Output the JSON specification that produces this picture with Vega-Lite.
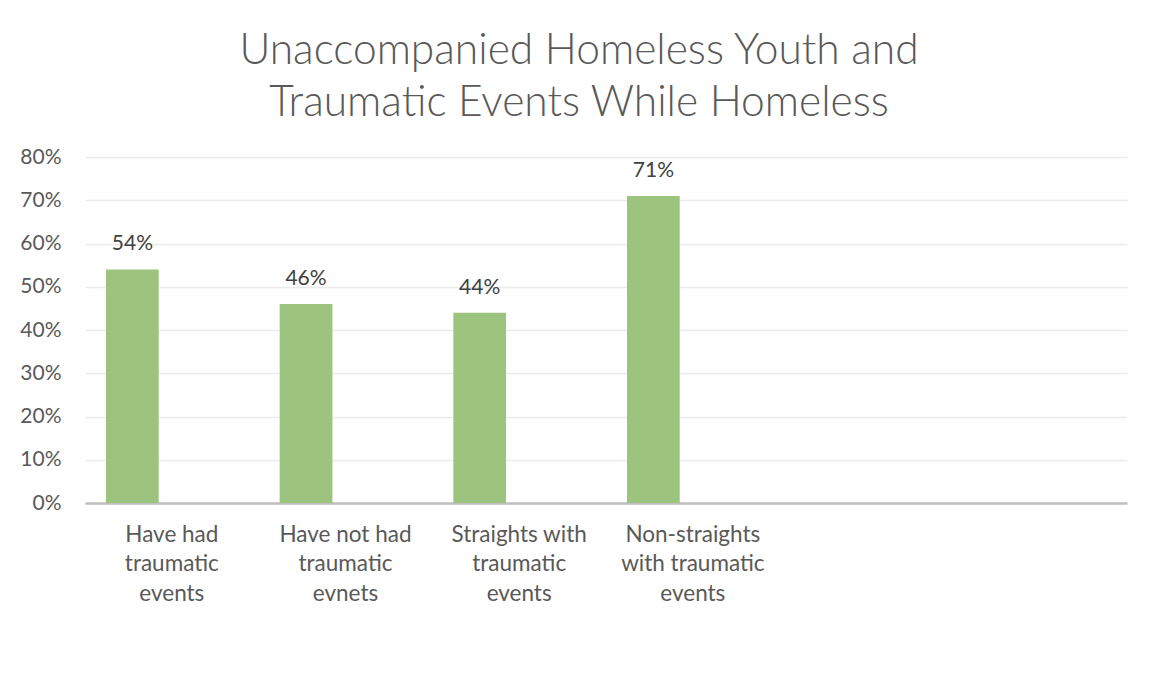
{
  "$schema": "https://vega.github.io/schema/vega-lite/v6.json",
  "width": 1042,
  "height": 346,
  "autosize": {"type": "none"},
  "padding": {"left": 85, "top": 157, "right": 24, "bottom": 174},
  "background": "white",
  "title": {
    "text": ["Unaccompanied Homeless Youth and", "Traumatic Events While Homeless"],
    "font": "Lato",
    "fontWeight": 300,
    "fontSize": 42.5,
    "color": "#595959",
    "anchor": "middle",
    "frame": "group",
    "dx": -27,
    "lineHeight": 52,
    "offset": 22
  },
  "data": {
    "values": [
      {"group": "Have had traumatic events", "series": "A", "share": 0.54},
      {"group": "Have not had traumatic evnets", "series": "A", "share": 0.46},
      {"group": "Straights with traumatic events", "series": "A", "share": 0.44},
      {"group": "Non-straights with traumatic events", "series": "A", "share": 0.71}
    ]
  },
  "encoding": {
    "x": {
      "field": "group",
      "type": "nominal",
      "sort": null,
      "scale": {
        "domain": ["Have had traumatic events", "Have not had traumatic evnets", "Straights with traumatic events", "Non-straights with traumatic events", " ", "  "],
        "paddingInner": 0,
        "paddingOuter": 0
      },
      "axis": {
        "title": null,
        "labelAngle": 0,
        "ticks": false,
        "domainColor": "#bfbfbf",
        "domainWidth": 2.5,
        "labelFont": "Lato",
        "labelFontSize": 22.5,
        "labelColor": "#595959",
        "labelLineHeight": 29.5,
        "labelPadding": 20,
        "labelBaseline": "top",
        "labelLimit": 0,
        "labelExpr": "datum.value == 'Have had traumatic events' ? ['Have had','traumatic','events'] : datum.value == 'Have not had traumatic evnets' ? ['Have not had','traumatic','evnets'] : datum.value == 'Straights with traumatic events' ? ['Straights with','traumatic','events'] : datum.value == 'Non-straights with traumatic events' ? ['Non-straights','with traumatic','events'] : ''"
      }
    },
    "xOffset": {
      "field": "series",
      "type": "nominal",
      "scale": {"domain": ["A", "B"], "paddingInner": 0.332, "paddingOuter": 0.266}
    },
    "y": {
      "field": "share",
      "type": "quantitative",
      "scale": {"domain": [0, 0.8], "nice": false},
      "axis": {
        "title": null,
        "values": [0, 0.1, 0.2, 0.3, 0.4, 0.5, 0.6, 0.7, 0.8],
        "format": ".0%",
        "domain": false,
        "ticks": false,
        "gridColor": "#ebebeb",
        "gridWidth": 1.5,
        "labelFont": "Lato",
        "labelFontSize": 21,
        "labelColor": "#595959",
        "labelPadding": 24
      }
    }
  },
  "layer": [
    {"mark": {"type": "bar", "color": "#9cc47e"}},
    {
      "mark": {"type": "text", "baseline": "alphabetic", "dy": -19, "font": "Lato", "fontSize": 21, "color": "#404040"},
      "encoding": {"text": {"field": "share", "type": "quantitative", "format": ".0%"}}
    }
  ],
  "config": {"view": {"stroke": null}}
}
